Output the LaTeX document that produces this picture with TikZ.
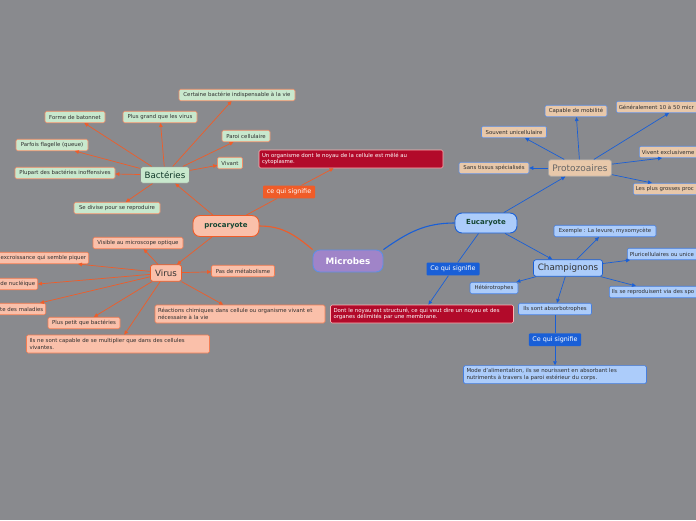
\documentclass[tikz,border=0pt]{standalone}
\usepackage{fontspec}
\setmainfont{DejaVu Sans}
\usepackage{tikz}
\usetikzlibrary{shapes,arrows,arrows.meta,positioning}
\usepackage{xcolor}
\definecolor{bggray}{RGB}{137,138,142}
\definecolor{orangeline}{RGB}{240,92,40}
\definecolor{blueline}{RGB}{25,95,215}
\definecolor{salmonfill}{RGB}{250,192,170}
\definecolor{mintfill}{RGB}{200,232,205}
\definecolor{skyfill}{RGB}{172,204,250}
\definecolor{protofill}{RGB}{232,200,170}
\definecolor{crimsonfill}{RGB}{178,10,42}
\definecolor{lavenderfill}{RGB}{160,132,200}
\definecolor{darkgreen}{RGB}{20,70,50}

\begin{document}
\begin{tikzpicture}[x=1pt,y=-1pt,>={Triangle[length=4pt,width=3.6pt]}]
\tikzstyle{leaf} = [rectangle, rounded corners=1.5pt, draw, line width=0.6pt, inner xsep=2.5pt, inner ysep=1.5pt, minimum height=11.5pt, text=black!82, font=\fontsize{5.4}{6.4}\selectfont];
\tikzstyle{bleaf} = [leaf, fill=mintfill, draw=orangeline!70];
\tikzstyle{vleaf} = [leaf, fill=salmonfill, draw=orangeline!80];
\tikzstyle{pleaf} = [leaf, fill=protofill, draw=blueline!70];
\tikzstyle{cleaf} = [leaf, fill=skyfill, draw=blueline!80];
\tikzstyle{longbox} = [align=left, inner xsep=3pt, minimum height=18pt];
\tikzstyle{meaning} = [leaf, longbox, fill=crimsonfill, draw=red!30, text=white];
\tikzstyle{signif} = [rectangle, rounded corners=1pt, minimum height=12pt, text=white, font=\fontsize{6.4}{7.5}\selectfont];
\tikzstyle{topic} = [rectangle, rounded corners=2.5pt, draw, line width=0.7pt, minimum height=16.5pt, font=\fontsize{8.7}{10}\selectfont];
\tikzstyle{branch} = [rectangle, rounded corners=7pt, draw, line width=0.9pt, minimum height=21pt, font=\fontsize{7}{8}\selectfont\bfseries];
\tikzstyle{olink} = [draw=orangeline, line width=0.7pt];
\tikzstyle{blink} = [draw=blueline, line width=0.7pt];

% fond
\fill [bggray] (0,0) rectangle (696,520);
\useasboundingbox (0,0) rectangle (696,520);

% centre
\node (mic) [branch, fill=lavenderfill, draw=blueline!70, text=white, minimum width=70pt, minimum height=22pt, font=\fontsize{8.8}{10}\selectfont\bfseries] at (348,261) {Microbes};
\node (proc) [branch, fill=salmonfill, draw=orangeline, text=darkgreen, minimum width=66pt] at (226,226) {procaryote};
\node (euc) [branch, fill=skyfill, draw=blueline, text=darkgreen, minimum width=62pt, minimum height=20pt] at (486,223) {Eucaryote};

\draw [olink, line width=1.1pt] (mic.north west) to[out=140, in=0] (proc.east);
\draw [blink, line width=1.1pt] (mic.north east) to[out=35, in=180] (euc.west);

% procaryote
\node (ceq) [signif, fill=orangeline, minimum width=52pt] at (289,192) {ce qui signifie};
\node (redpro) [meaning, text width=178pt] at (351,159) {Un organisme dont le noyau de la cellule est mêlé au\\cytoplasme.};
\draw [olink] (proc) -- (ceq);
\draw [olink, ->] (ceq) -- (redpro);

\node (bact) [topic, fill=mintfill, draw=black!45, text=darkgreen!80!black, minimum width=49pt] at (165,175) {Bactéries};
\node (virus) [topic, fill=salmonfill, draw=orangeline, text=black!80, minimum width=31pt] at (166,273) {Virus};
\draw [olink, ->] (proc) -- (bact);
\draw [olink, ->] (proc) -- (virus);

% bacteries
\node (certaine) [bleaf, minimum width=116pt] at (237,95) {Certaine bactérie indispensable à la vie};
\node (forme) [bleaf, minimum width=60pt] at (75,117) {Forme de batonnet};
\node (grand) [bleaf, minimum width=74pt] at (160,117) {Plus grand que les virus};
\node (paroi) [bleaf, minimum width=48pt] at (246,136) {Paroi cellulaire};
\node (flag) [bleaf, minimum width=72pt] at (52,145) {Parfois flagelle (queue)};
\node (vivant) [bleaf, minimum width=25pt] at (230,163) {Vivant};
\node (plupart) [bleaf, minimum width=100pt] at (65,173) {Plupart des bactéries inoffensives};
\node (divise) [bleaf, minimum width=86pt] at (117,208) {Se divise pour se reproduire};
\draw [olink, ->] (bact) -- (certaine);
\draw [olink, ->] (bact) -- (forme);
\draw [olink, ->] (bact) -- (grand);
\draw [olink, ->] (bact) -- (paroi);
\draw [olink, ->] (bact) -- (flag);
\draw [olink, ->] (bact) -- (vivant);
\draw [olink, ->] (bact) -- (plupart);
\draw [olink, ->] (bact) -- (divise);

% virus
\node (visible) [vleaf, minimum width=90pt] at (138,243) {Visible au microscope optique};
\node (excr) [vleaf, anchor=east, text width=110pt, align=right] at (89,258) {excroissance qui semble piquer};
\node (nucl) [vleaf, anchor=east, text width=80pt, align=right] at (38,284) {de nucléique};
\node (mal) [vleaf, anchor=east, text width=80pt, align=right] at (46,309) {te des maladies};
\node (meta) [vleaf, minimum width=63pt] at (243,271) {Pas de métabolisme};
\node (react) [vleaf, longbox, text width=164pt] at (240,314) {Réactions chimiques dans cellule ou organisme vivant et\\nécessaire à la vie};
\node (petit) [vleaf, minimum width=72pt] at (84,323) {Plus petit que bactéries};
\node (mult) [vleaf, longbox, text width=177pt] at (118,344) {Ils ne sont capable de se multiplier que dans des cellules\\vivantes.};
\draw [olink, ->] (virus) -- (visible);
\draw [olink, ->] (virus) -- ([xshift=-11pt]excr.south east);
\draw [olink, ->] (virus) -- (nucl.east);
\draw [olink, ->] (virus) -- ([xshift=-6pt]mal.north east);
\draw [olink, ->] (virus) -- (meta);
\draw [olink, ->] (virus) -- (react);
\draw [olink, ->] (virus) -- (petit);
\draw [olink, ->] (virus) -- (mult);

% eucaryote
\node (cqs) [signif, fill=blueline, minimum width=53pt] at (453,269) {Ce qui signifie};
\node (redeuc) [meaning, text width=177pt] at (422,314) {Dont le noyau est structuré, ce qui veut dire un noyau et des\\organes délimités par une membrane.};
\draw [blink] (euc) -- (cqs);
\draw [blink, ->] (cqs) -- (redeuc);

\node (proto) [topic, fill=protofill, draw=black!35, text=black!60, minimum width=63pt, font=\fontsize{9}{10}\selectfont] at (580,168) {Protozoaires};
\node (champ) [topic, fill=skyfill, draw=blueline, text=black!80, minimum width=69pt, font=\fontsize{8.8}{10}\selectfont] at (568,268) {Champignons};
\draw [blink, ->] (euc) -- (proto);
\draw [blink, ->] (euc) -- (champ);

% protozoaires
\node (mobil) [pleaf, minimum width=62pt] at (576,111) {Capable de mobilité};
\node (gen) [pleaf, anchor=west, text width=110pt, align=left] at (616,107) {Généralement 10 à 50 micr};
\node (unicel) [pleaf, minimum width=65pt] at (514,132) {Souvent unicellulaire};
\node (vivent) [pleaf, anchor=west, text width=90pt, align=left] at (639,152) {Vivent exclusiveme};
\node (tissus) [pleaf, minimum width=70pt] at (494,168) {Sans tissus spécialisés};
\node (grosses) [pleaf, anchor=west, text width=90pt, align=left] at (633,189) {Les plus grosses proc};
\draw [blink, ->] (proto) -- (mobil);
\draw [blink, ->] (proto) -- ([xshift=53pt]gen.south west);
\draw [blink, ->] (proto) -- (unicel);
\draw [blink, ->] (proto) -- ([xshift=23pt]vivent.south west);
\draw [blink, ->] (proto) -- (tissus);
\draw [blink, ->] (proto) -- ([xshift=19pt]grosses.north west);

% champignons
\node (exemple) [cleaf, minimum width=102pt] at (605,231) {Exemple : La levure, myxomycète};
\node (pluri) [cleaf, anchor=west, text width=90pt, align=left] at (627,254) {Pluricellulaires ou unice};
\node (hetero) [cleaf, minimum width=48pt] at (494,288) {Hétérotrophes};
\node (repro) [cleaf, anchor=west, text width=110pt, align=left] at (609,292) {Ils se reproduisent via des spo};
\node (absorb) [cleaf, minimum width=73pt] at (555,309) {Ils sont absorbotrophes};
\node (cqs2) [signif, fill=blueline, minimum width=52pt, below=18pt of absorb] {Ce qui signifie};
\node (mode) [cleaf, longbox, text width=177pt, below=19pt of cqs2] {Mode d'alimentation, ils se nourissent en absorbant les\\nutriments à travers la paroi estérieur du corps.};
\draw [blink, ->] (champ) -- (exemple);
\draw [blink, ->] (champ) -- ([xshift=3pt]pluri.south west);
\draw [blink, ->] (champ) -- (hetero);
\draw [blink, ->] (champ) -- ([xshift=27pt]repro.north west);
\draw [blink, ->] (champ) -- (absorb);
\draw [blink] (absorb) -- (cqs2);
\draw [blink, ->] (cqs2) -- (mode);
\end{tikzpicture}
\end{document}
